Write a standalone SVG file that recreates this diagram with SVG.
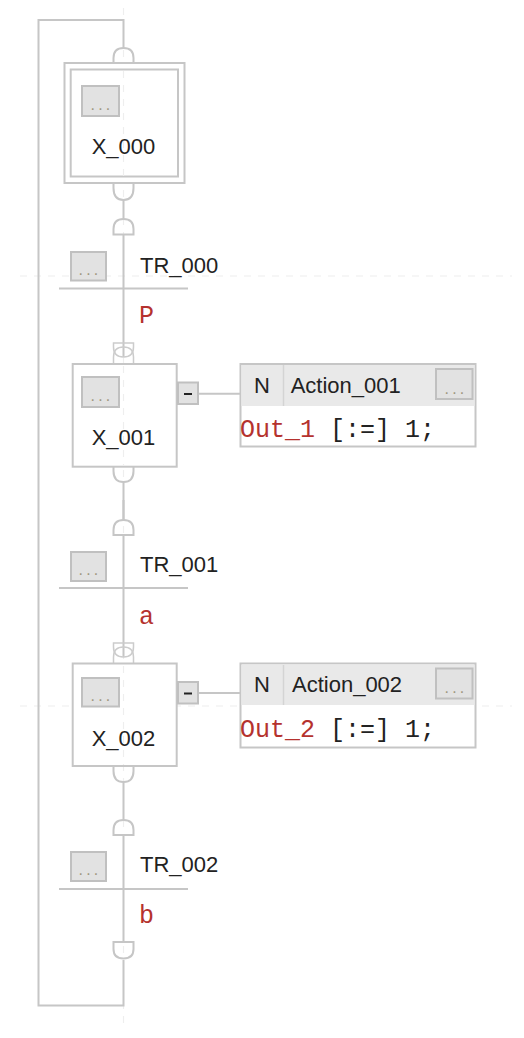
<svg xmlns="http://www.w3.org/2000/svg" width="524" height="1038" viewBox="0 0 524 1038">
<style>
.g{fill:none;stroke:#eeeeee;stroke-width:1.2;stroke-dasharray:7 7}
.l{fill:none;stroke:#c6c6c6;stroke-width:2}
.a{fill:none;stroke:#cccccc;stroke-width:1.500}
.t{fill:none;stroke:#c6c6c6;stroke-width:2}
.s{fill:#fff;stroke:#c6c6c6;stroke-width:2}
.b{fill:#e2e2e2;stroke:#c0c0c0;stroke-width:2}
.h{fill:#e9e9e9;stroke:none}
text{font-family:"Liberation Sans",Arial,sans-serif;font-size:22px;fill:#222}
.m{font-family:"Liberation Mono","DejaVu Sans Mono",monospace;font-size:25px;fill:#222}
.r{fill:#b5322e}
.dots{font-size:16px;letter-spacing:3.200px;fill:#a09880;text-anchor:middle}
.c{text-anchor:middle}
</style>
<g id="guides">
<path class="g" d="M20 276H512"/>
<path class="g" d="M20 706H512"/>
<path class="g" d="M123.500 8V1026"/>
</g>
<g id="connectors">
<path class="l" d="M123.500 48V20H38.500V1005.500H123.500V960"/>
<path class="l" d="M123.500 200V219M123.500 235V357"/>
<path class="l" d="M123.500 500V520M123.500 535V657"/>
<path class="l" d="M123.500 482V520M123.500 782V820M123.500 835V941"/>
<path class="l" d="M177 393.700H240.500M177 693H240.500"/>
<path class="t" d="M113.500 62.500V58Q113.500 48 123.500 48T133.500 58V62.500"/>
<path class="t" d="M113.500 183.500V188Q113.500 200 123.500 200T133.500 188V183.500"/>
<path class="t" d="M113.500 234.500V229Q113.500 219 123.500 219T133.500 229V234.500Z"/>
<path class="t" d="M113.500 535V530Q113.500 520 123.500 520T133.500 530V535Z"/>
<path class="t" d="M113.500 835V830Q113.500 820 123.500 820T133.500 830V835Z"/>
<path class="t" d="M113.500 467V471Q113.500 482 123.500 482T133.500 471V467"/>
<path class="t" d="M113.500 767V771Q113.500 782 123.500 782T133.500 771V767"/>
<path class="t" d="M113.500 942V949Q113.500 958.500 123.500 958.500T133.500 949V942Z"/>
<path class="a" d="M113.500 343H133.500V347Q133.500 357 123.500 357T113.500 347Z"/>
<path class="a" d="M113.500 363V357Q113.500 347 123.500 347T133.500 357V363"/>
<path class="a" d="M113.500 643H133.500V647Q133.500 657 123.500 657T113.500 647Z"/>
<path class="a" d="M113.500 663V657Q113.500 647 123.500 647T133.500 657V663"/>
<path class="l" d="M59 288.500H188M59 588H188M59 889H188"/>
</g>
<g id="step_X_000">
<rect class="s" x="64.500" y="63" width="120" height="120"/>
<rect class="s" x="70.700" y="69.500" width="107.300" height="107"/>
<path class="g" d="M123.500 71V176"/>
<rect class="b" x="82" y="86" width="37" height="30"/>
<text class="dots" x="102" y="110">...</text>
<text class="c" x="123.500" y="154">X_000</text>
</g>
<g id="transition_TR_000">
<rect class="b" x="71" y="252" width="35" height="28.500"/>
<text class="dots" x="90" y="275">...</text>
<text x="140" y="272.500">TR_000</text>
<text class="m r" x="139" y="323">P</text>
</g>
<g id="step_X_001">
<rect class="s" x="72.700" y="364" width="104" height="102.700"/>
<path class="g" d="M123.500 366V466"/>
<rect class="b" x="82" y="377" width="37" height="30"/>
<text class="dots" x="102" y="401">...</text>
<text class="c" x="123.500" y="445">X_001</text>
<rect class="b" x="178" y="382.500" width="20" height="21.500"/>
<path d="M184 394H192" stroke="#222" stroke-width="2"/>
</g>
<g id="action_001">
<rect class="s" x="240.500" y="364" width="235" height="82.500"/>
<rect class="h" x="241.500" y="365" width="233" height="41"/>
<path d="M283.500 365V406" stroke="#d4d4d4" stroke-width="1.500"/>
<text class="c" x="262" y="393">N</text>
<text x="290.700" y="393">Action_001</text>
<rect class="b" x="436" y="369" width="36.500" height="30"/>
<text class="dots" x="456" y="393.500">...</text>
<text class="m" x="240" y="437"><tspan class="r">Out_1</tspan> [:=] 1;</text>
</g>
<g id="transition_TR_001">
<rect class="b" x="71" y="552" width="35" height="29"/>
<text class="dots" x="90" y="575">...</text>
<text x="140" y="572">TR_001</text>
<text class="m r" x="139" y="624">a</text>
</g>
<g id="step_X_002">
<rect class="s" x="72.700" y="663.500" width="104" height="102.500"/>
<path class="g" d="M123.500 666V765"/>
<rect class="b" x="82" y="678" width="37" height="28.500"/>
<text class="dots" x="102" y="701">...</text>
<text class="c" x="123.500" y="746">X_002</text>
<rect class="b" x="178" y="682" width="20" height="21.500"/>
<path d="M184 693.500H192" stroke="#222" stroke-width="2"/>
</g>
<g id="action_002">
<rect class="s" x="240.500" y="663.500" width="235" height="84"/>
<rect class="h" x="241.500" y="664.500" width="233" height="40.500"/>
<path d="M283.500 665V705" stroke="#d4d4d4" stroke-width="1.500"/>
<text class="c" x="262" y="692">N</text>
<text x="292" y="692">Action_002</text>
<rect class="b" x="436" y="668.500" width="36.500" height="30"/>
<text class="dots" x="456" y="693">...</text>
<text class="m" x="240" y="737"><tspan class="r">Out_2</tspan> [:=] 1;</text>
</g>
<g id="transition_TR_002">
<rect class="b" x="71" y="852" width="35" height="29"/>
<text class="dots" x="90" y="875">...</text>
<text x="140" y="872">TR_002</text>
<text class="m r" x="139" y="923">b</text>
</g>
</svg>
